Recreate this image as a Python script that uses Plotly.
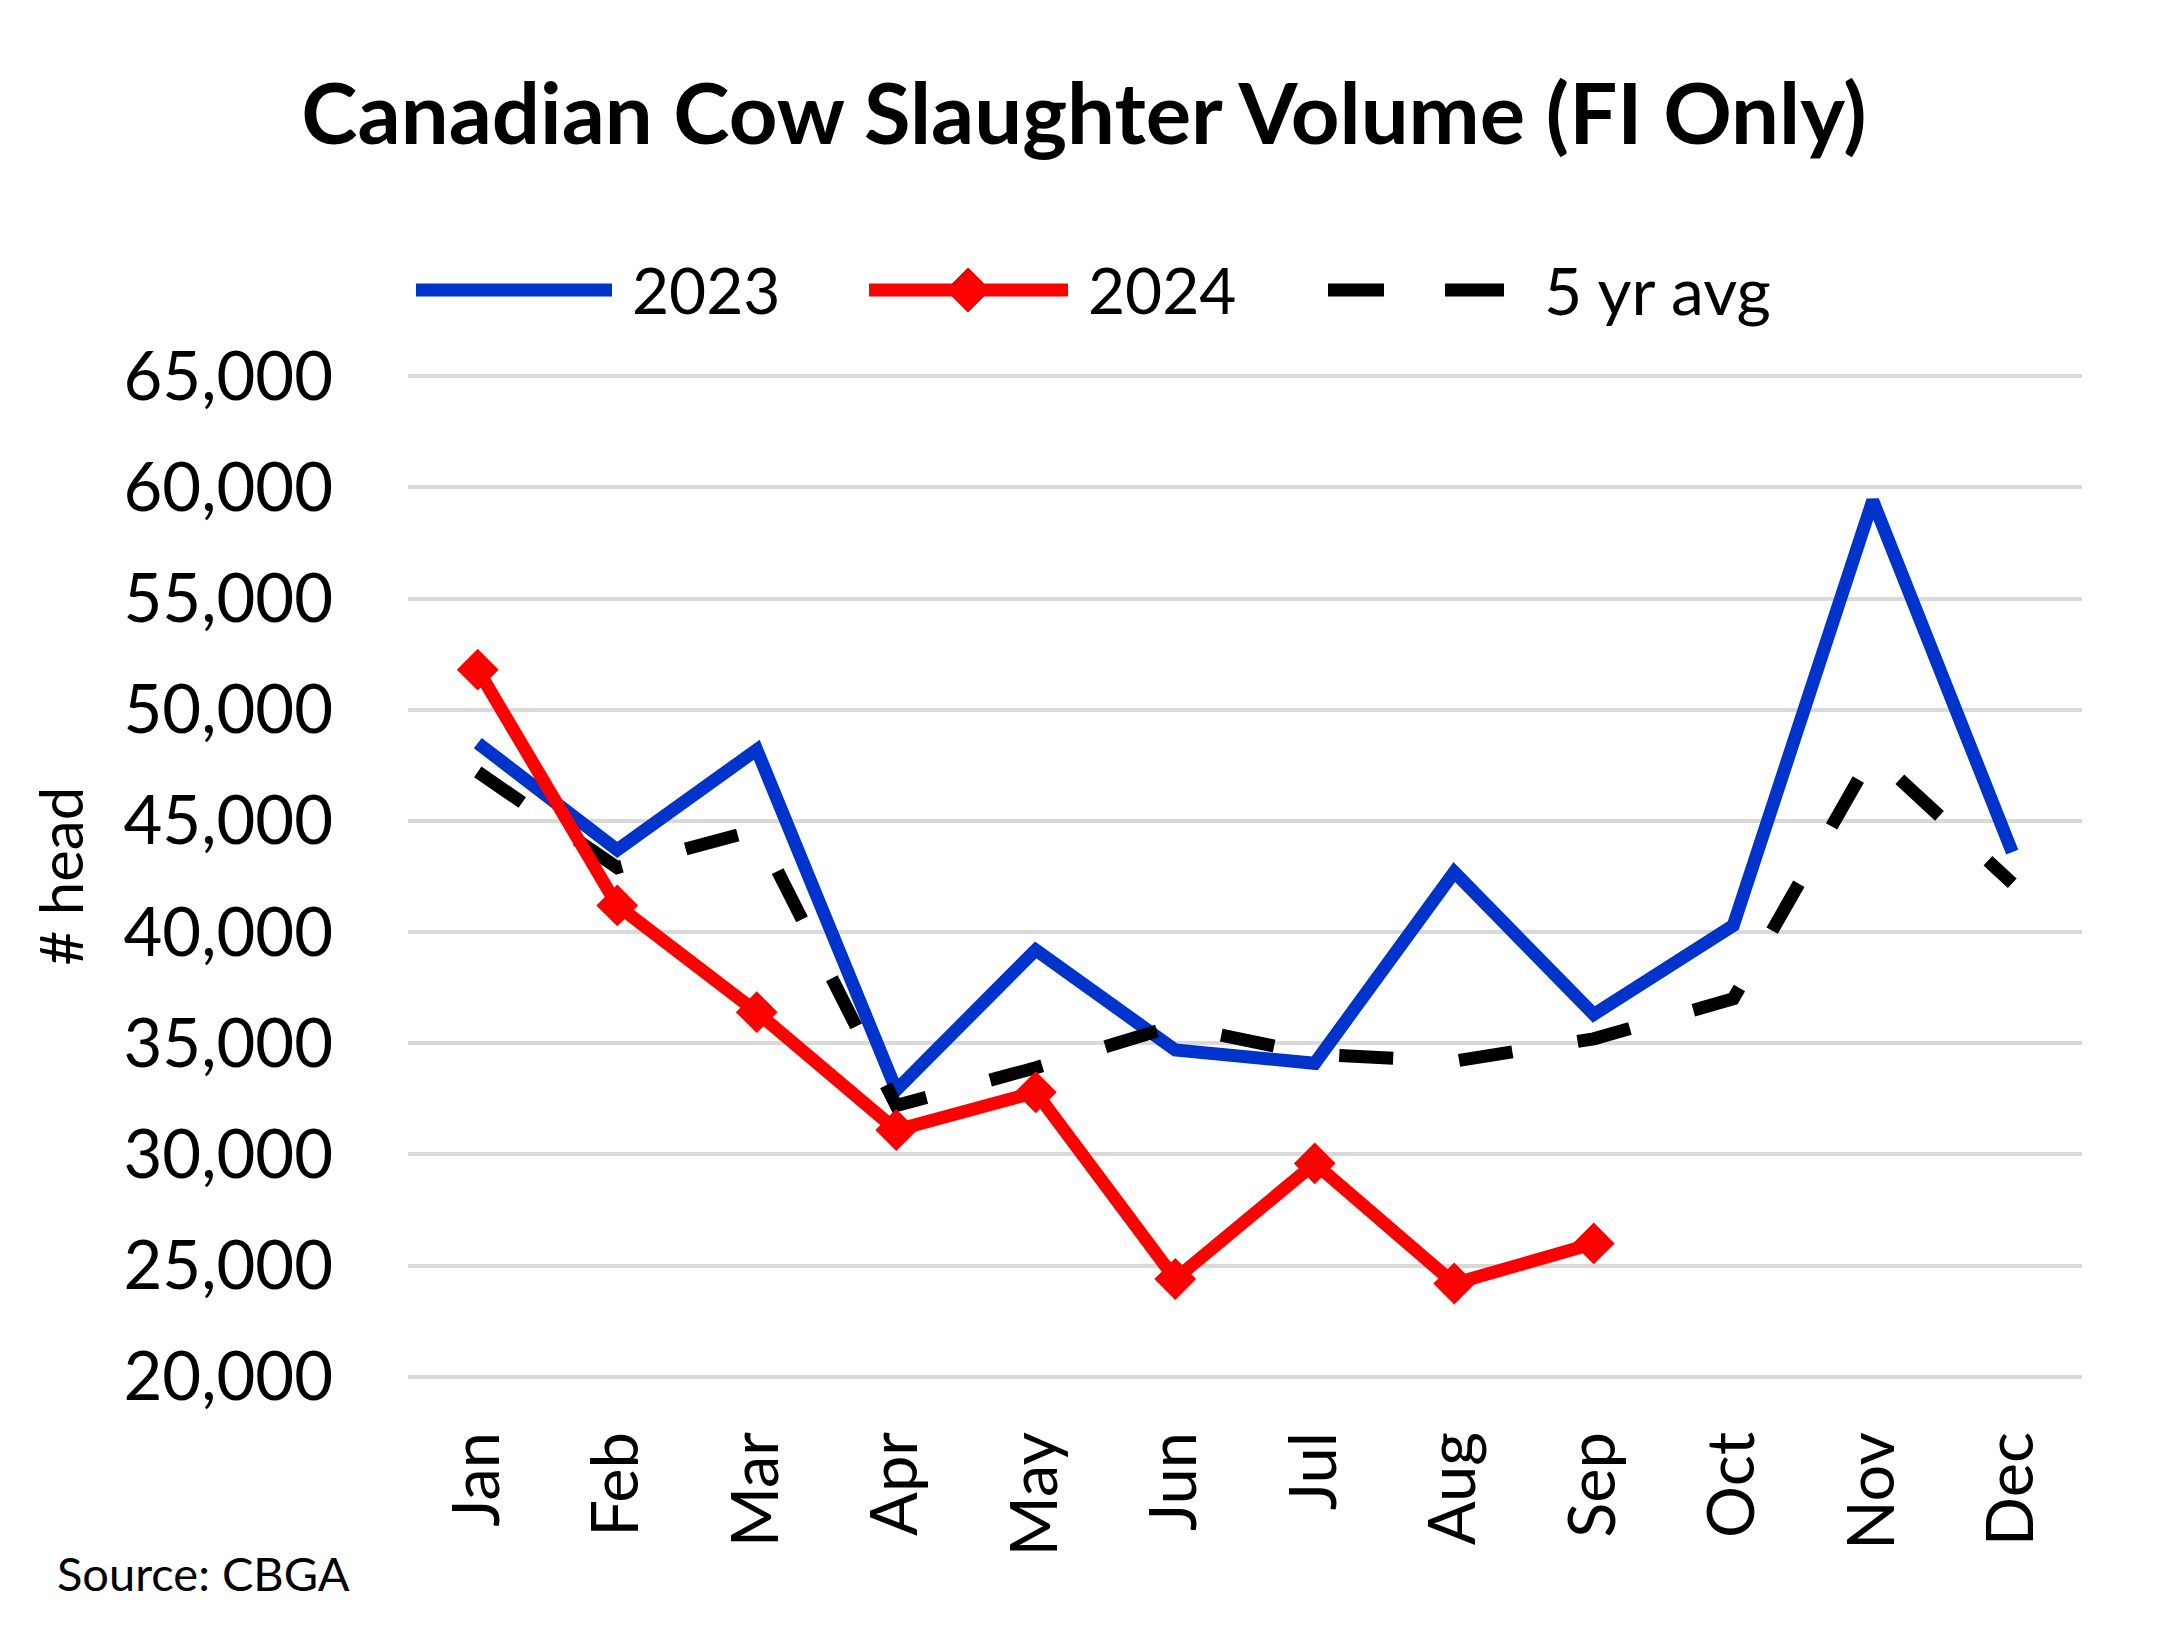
import plotly.graph_objects as go

months = ["Jan", "Feb", "Mar", "Apr", "May", "Jun", "Jul", "Aug", "Sep", "Oct", "Nov", "Dec"]
y2023 = [48500, 43700, 48200, 32900, 39200, 34700, 34100, 42700, 36300, 40300, 59400, 43600]
y2024 = [51800, 41200, 36400, 31100, 32800, 24400, 29600, 24200, 26000]
y5yr = [47200, 42900, 44600, 32200, 33900, 35800, 34500, 34200, 35200, 37000, 48000, 42200]
ytick_vals = [20000, 25000, 30000, 35000, 40000, 45000, 50000, 55000, 60000, 65000]

W, H = 2168, 1635
L, R, T, B = 408, 86, 373, 255
PW, PH = W - L - R, H - T - B
FONT = "Lato, 'Open Sans', sans-serif"

def px(x):
    return (x - L) / PW

def py(y):
    return (H - B - y) / PH

LW = 13
fig = go.Figure()
fig.add_trace(go.Scatter(x=months, y=y2023, mode="lines", name="2023",
                         line=dict(color="#0033CC", width=LW)))
fig.add_trace(go.Scatter(x=months, y=y5yr, mode="lines", name="5 yr avg",
                         line=dict(color="black", width=LW, dash="54px,66px")))
fig.add_trace(go.Scatter(x=months[:len(y2024)], y=y2024, mode="lines+markers", name="2024",
                         line=dict(color="#FF0000", width=LW),
                         marker=dict(symbol="diamond", size=30, color="#FF0000",
                                     line=dict(color="#FF0000", width=2))))

shapes = []
ly = py(290)
shapes.append(dict(type="line", xref="paper", yref="paper", x0=px(416), x1=px(612), y0=ly, y1=ly,
                   line=dict(color="#0033CC", width=LW)))
shapes.append(dict(type="line", xref="paper", yref="paper", x0=px(869), x1=px(1068), y0=ly, y1=ly,
                   line=dict(color="#FF0000", width=LW)))
cx, cy, r = 968, 290, 22
path = "M {} {} L {} {} L {} {} L {} {} Z".format(px(cx - r), py(cy), px(cx), py(cy - r), px(cx + r), py(cy), px(cx), py(cy + r))
shapes.append(dict(type="path", xref="paper", yref="paper", path=path,
                   fillcolor="#FF0000", line=dict(color="#FF0000", width=1)))
shapes.append(dict(type="line", xref="paper", yref="paper", x0=px(1328), x1=px(1384), y0=ly, y1=ly,
                   line=dict(color="black", width=LW)))
shapes.append(dict(type="line", xref="paper", yref="paper", x0=px(1445), x1=px(1504), y0=ly, y1=ly,
                   line=dict(color="black", width=LW)))

annotations = [
    dict(text="2023", xref="paper", yref="paper", x=px(630), y=ly, xanchor="left", yanchor="middle",
         showarrow=False, font=dict(size=64, color="black", family=FONT)),
    dict(text="2024", xref="paper", yref="paper", x=px(1086), y=ly, xanchor="left", yanchor="middle",
         showarrow=False, font=dict(size=64, color="black", family=FONT)),
    dict(text="5 yr avg", xref="paper", yref="paper", x=px(1542), y=ly, xanchor="left", yanchor="middle",
         showarrow=False, font=dict(size=66, color="black", family=FONT)),
    dict(text="# head", xref="paper", yref="paper", x=px(59), y=0.5, xanchor="center", yanchor="middle",
         textangle=-90, showarrow=False, font=dict(size=60, color="black", family=FONT)),
    dict(text="Source: CBGA", xref="paper", yref="paper", x=px(55), y=py(1573), xanchor="left",
         yanchor="middle", showarrow=False, font=dict(size=47, color="black", family=FONT)),
]

fig.update_layout(
    width=W, height=H,
    margin=dict(l=L, r=R, t=T, b=B),
    paper_bgcolor="white", plot_bgcolor="white",
    showlegend=False,
    title=dict(text="<b>Canadian Cow Slaughter Volume (FI Only)</b>", x=0.5, xanchor="center",
               y=1 - 114 / H, yanchor="middle", font=dict(size=85, color="black", family=FONT)),
    shapes=shapes, annotations=annotations,
    font=dict(family=FONT, color="black"),
)
fig.update_xaxes(type="category", range=[-0.5, 11.5], tickangle=-90,
                 tickfont=dict(size=65, family=FONT, color="black"),
                 showgrid=False, showline=False, ticks="", ticklabelstandoff=38)
fig.update_yaxes(range=[19860, 65140], tickvals=ytick_vals, tickformat=",d",
                 tickfont=dict(size=67, family=FONT, color="black"),
                 showgrid=True, gridcolor="#D9D9D9", gridwidth=4, zeroline=False,
                 showline=False, ticks="", ticklabelstandoff=74)

fig.write_html("out.html", config={"displayModeBar": False},
               post_script="document.body.style.margin='0';")
